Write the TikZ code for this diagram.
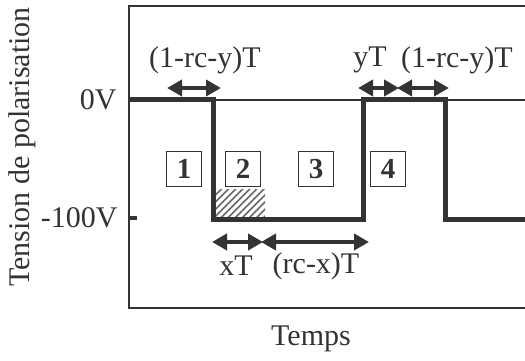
\documentclass[tikz,border=0pt]{standalone}
\usepackage{fontspec}
\setmainfont{Liberation Serif}
\usepackage{xcolor}
\usepackage{tikz}
\usetikzlibrary{arrows.meta,patterns.meta}
\definecolor{ink}{HTML}{333333}

\begin{document}
\begin{tikzpicture}[
  x=1pt, y=1pt,
  font=\fontsize{30}{34}\selectfont, text=ink,
  frame/.style={draw=ink, line width=2pt},
  signal/.style={draw=ink, line width=5pt, line join=miter},
  span/.style={{Triangle[length=15pt,width=16pt]}-{Triangle[length=15pt,width=16pt]}, draw=ink, line width=4pt, shorten <=-1pt, shorten >=-1pt},
  phase/.style={draw=ink, line width=1.5pt, minimum width=35pt, minimum height=35pt, inner sep=0pt, font=\fontsize{29}{30}\selectfont\bfseries}
]
\useasboundingbox (0,0) rectangle (525,361);
% axes frame
\draw[frame] (545,355) -- (129,355) -- (129,53) -- (545,53);
\draw[frame] (129,261) -- (545,261);
\draw[ink, line width=4pt] (129,143) -- (137,143);
% hatched part of phase 2
\fill[pattern={Lines[angle=45, distance=5pt, line width=1.6pt]}, pattern color=ink!75] (215,143) rectangle (265,171);
% bias voltage
\draw[signal] (129,261) -- (213,261) -- (213,141) -- (363,141) -- (363,261) -- (445,261) -- (445,141) -- (545,141);
% level labels
\node[anchor=east] (zero) at (120,261) {0V};
\node[anchor=east] (low) at (121,143) {-100V};
\node[rotate=90] (ylab) at (22,214) {Tension de polarisation};
\node (xlab) at (311,22) {Temps};
% phases
\node[phase] (p1) at (184,192) {1};
\node[phase] (p2) at (243,192) {2};
\node[phase] (p3) at (316,192) {3};
\node[phase] (p4) at (388,192) {4};
% durations
\coordinate (a1) at (168,273);
\coordinate (a2) at (220,273);
\coordinate (b1) at (359,273);
\coordinate (b2) at (398,273);
\coordinate (b3) at (448,273);
\coordinate (c1) at (213,119);
\coordinate (c2) at (262,119);
\coordinate (c3) at (368,119);
\draw[span] (a1) -- (a2);
\draw[span] (b1) -- (b2);
\draw[span] (b2) -- (b3);
\draw[span] (c1) -- (c2);
\draw[span] (c2) -- (c3);
\node (ta) at (205,301) {(1-rc-y)T};
\node (tb) at (370,301) {yT};
\node (tc) at (457,301) {(1-rc-y)T};
\node (td) at (236,95) {xT};
\node (te) at (316,95) {(rc-x)T};
\end{tikzpicture}
\end{document}
